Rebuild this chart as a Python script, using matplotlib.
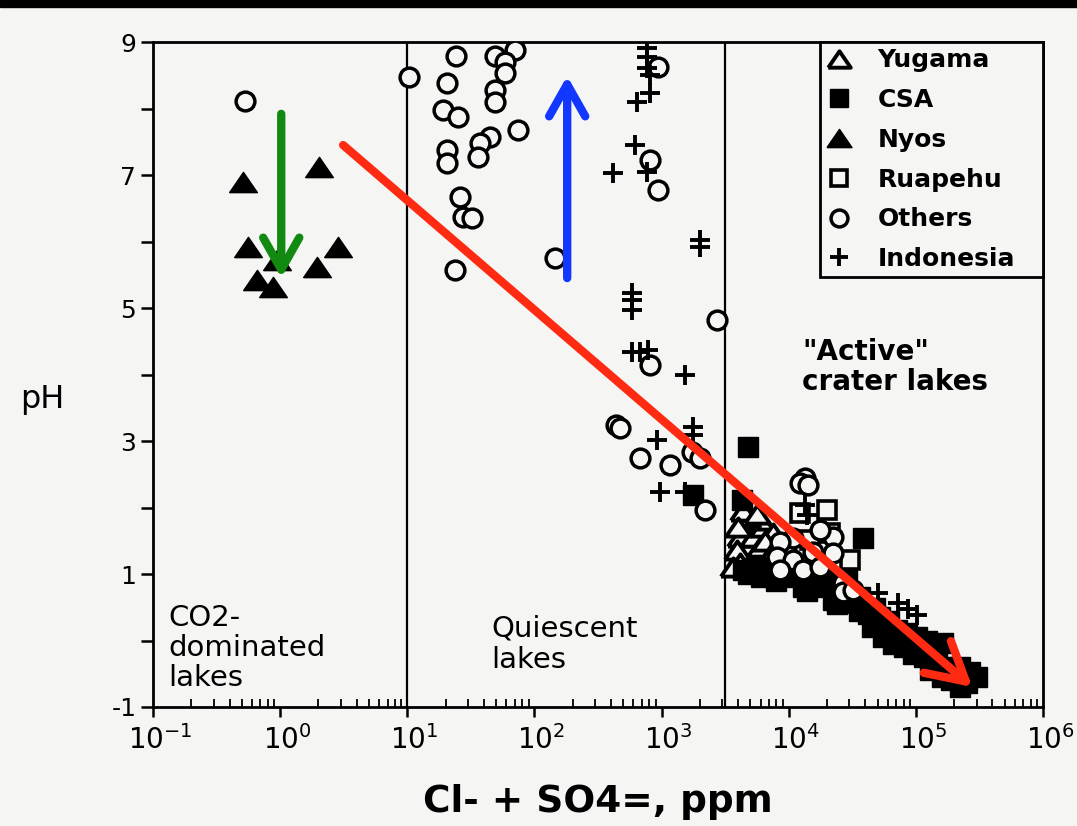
import matplotlib
matplotlib.use('Agg')
import numpy as np
import matplotlib.pyplot as plt
from matplotlib.ticker import LogLocator, FuncFormatter, NullFormatter
from matplotlib.patches import Rectangle
from matplotlib.transforms import ScaledTranslation

plt.rcParams['font.family'] = ['DejaVu Sans']
plt.rcParams['mathtext.default'] = 'regular'
plt.rcParams['axes.unicode_minus'] = False

# ---------------- data (Cl- + SO4=, ppm ; pH) ----------------
yugama_x = [4980, 4150, 3935, 4150, 5260, 5970, 6300, 6780, 5260, 9730, 5970, 7550, 3660, 9730, 4710,
            4400, 5600, 4000, 6500, 7200, 8000]
yugama_y = [1.77, 1.56, 1.36, 1.17, 1.56, 1.41, 1.71, 1.21, 1.11, 1.06, 1.81, 1.62, 1.11, 1.41, 1.86,
            1.95, 1.90, 1.70, 1.50, 1.30, 1.15]

csa_x = [4800, 1774, 4300, 38550, 4385, 7150, 11670, 13000, 18660, 25420, 36560, 28860, 20090,
         22390, 32150, 52500, 59600, 71450, 85500, 102600, 123000, 137100, 164400, 147300,
         176600, 223400, 267900, 304100, 253600, 223400, 5650, 9730, 15600, 48000,
         36000, 45000, 55000, 66000, 80000, 95000, 115000, 130000, 160000, 190000,
         6000, 8000, 14000, 24000, 4800, 42000, 62000]
csa_y = [2.91, 2.19, 2.11, 1.54, 1.06, 1.02, 0.95, 0.80, 0.80, 0.71, 0.65, 0.91, 0.91,
         0.61, 0.61, 0.35, 0.26, 0.16, 0.11, 0.05, 0.00, -0.10, -0.04, -0.34,
         -0.40, -0.40, -0.47, -0.55, -0.64, -0.70, 1.11, 1.02, 0.91, 0.49,
         0.45, 0.20, 0.05, -0.05, -0.10, -0.20, -0.25, -0.45, -0.55, -0.60,
         0.95, 0.90, 0.75, 0.55, 1.00, 0.40, 0.30]

nyos_x = [0.51, 2.02, 0.56, 2.86, 1.95, 0.95, 0.66, 0.88]
nyos_y = [6.89, 7.12, 5.92, 5.92, 5.62, 5.72, 5.42, 5.32]

ruapehu_x = [12300, 20090, 21180, 30500, 14750]
ruapehu_y = [1.92, 1.96, 1.62, 1.21, 1.51]

others_x = [0.53, 10.3, 24.2, 20.6, 49, 70.5, 58.8, 58.8, 49, 49, 19.1, 25.1, 74.5, 44.8, 37.4,
            36.1, 20.6, 20.6, 26.0, 27.5, 32.3, 23.8, 145.5, 940, 813, 940, 2735, 813, 440,
            472, 1740, 2013, 679, 1169, 2203,
            13490, 12300, 14220, 22390, 17700, 15600, 10840, 8570, 8110, 10840, 13000, 17700,
            8570, 22390, 26850, 26850, 32150]
others_y = [8.11, 8.47, 8.79, 8.38, 8.79, 8.88, 8.70, 8.53, 8.28, 8.10, 7.98, 7.87, 7.68, 7.57, 7.48,
            7.27, 7.38, 7.18, 6.67, 6.37, 6.35, 5.57, 5.75, 8.62, 7.23, 6.77, 4.82, 4.14, 3.24,
            3.20, 2.83, 2.74, 2.74, 2.64, 1.96,
            2.44, 2.37, 2.34, 1.56, 1.66, 1.33, 1.54, 1.48, 1.26, 1.21, 1.06, 1.11,
            1.06, 1.32, 0.86, 0.73, 0.76]

indonesia_x = [771, 771, 771, 813, 643, 813, 620, 771, 416, 2013, 2013, 587, 587, 587, 587, 679,
               785, 1535, 923, 1774, 1774, 975, 1535,
               13490, 14000, 33340, 50600, 72600, 102600, 87100]
indonesia_y = [8.91, 8.77, 8.61, 8.50, 8.10, 8.23, 7.45, 7.05, 7.03, 6.02, 5.92, 5.23, 5.12, 4.97, 4.34, 4.34,
               4.37, 3.99, 3.02, 3.21, 3.09, 2.23, 2.23,
               2.04, 1.89, 0.43, 0.71, 0.56, 0.38, 0.47]

legend_labels = ['Yugama', 'CSA', 'Nyos', 'Ruapehu', 'Others', 'Indonesia']
y_tick_values = [-1, 1, 3, 5, 7, 9]
y_tick_labels = ['-1', '1', '3', '5', '7', '9']
divider_x = [10, 3160]

# arrows: (x_tail, y_tail, x_head, y_head)
green_arrow = (1.02, 7.92, 1.02, 5.45)
blue_arrow = (181, 5.45, 181, 8.49)
red_arrow = (3.13, 7.45, 278000, -0.70)

# ---------------- figure ----------------
BG = '#f5f5f4'
W, H = 1077, 826
fig = plt.figure(figsize=(W / 100, H / 100), dpi=100, facecolor=BG)
ax = fig.add_axes([153 / W, 1 - 707 / H, (1043 - 153) / W, (707 - 42) / H], facecolor=BG)
fig.patches.append(Rectangle((0, 1 - 7 / H), 1, 7 / H, transform=fig.transFigure,
                             color='black', zorder=5))

tri = [(-1, -0.73), (1, -0.73), (0, 0.73), (-1, -0.73)]

common = dict(linestyle='none')
h_yug, = ax.plot(yugama_x, yugama_y, marker=tri, ms=18, mfc=BG, mec='black', mew=2.8,
                 zorder=3, **common)
h_csa, = ax.plot(csa_x, csa_y, marker='s', ms=14, mfc='black', mec='black', mew=1,
                 zorder=3, **common)
h_nyo, = ax.plot(nyos_x, nyos_y, marker=tri, ms=20, mfc='black', mec='black', mew=1,
                 zorder=3, **common)
h_rua, = ax.plot(ruapehu_x, ruapehu_y, marker='s', ms=13, mfc=BG, mec='black', mew=2.6,
                 zorder=3, **common)
h_oth, = ax.plot(others_x, others_y, marker='o', ms=13.5, mfc=BG, mec='black', mew=2.5,
                 zorder=3, **common)
h_ind, = ax.plot(indonesia_x, indonesia_y, marker='+', ms=15, mec='black', mew=2.8,
                 zorder=3, **common)

for dx in divider_x:
    ax.axvline(dx, color='black', lw=1.6, zorder=2)

ax.set_xscale('log')
ax.set_xlim(0.1, 1e6)
ax.set_ylim(-1, 9)

ax.xaxis.set_major_locator(LogLocator(base=10, numticks=12))
ax.xaxis.set_minor_locator(LogLocator(base=10, subs=range(2, 10), numticks=100))
ax.xaxis.set_major_formatter(FuncFormatter(lambda v, p: '$10^{%d}$' % int(round(np.log10(v)))))
ax.xaxis.set_minor_formatter(NullFormatter())
ax.tick_params(axis='x', which='major', direction='out', length=7, width=1.8,
               labelsize=20, pad=6, top=False)
ax.tick_params(axis='x', which='minor', direction='in', length=6, width=1.3, top=False)
shift = ScaledTranslation(5 / 72, 0, fig.dpi_scale_trans)
for lab in ax.get_xticklabels():
    lab.set_transform(lab.get_transform() + shift)

ax.set_yticks(y_tick_values)
ax.set_yticklabels(y_tick_labels)
ax.set_yticks([0, 2, 4, 6, 8], minor=True)
ax.tick_params(axis='y', which='both', direction='out', length=9, width=1.8,
               labelsize=18, pad=3, right=False)

for s in ax.spines.values():
    s.set_linewidth(2.0)
    s.set_color('black')

# region labels
ax.text((168 - 153) / 890, (707 - 692) / 665, 'CO2-\ndominated\nlakes', transform=ax.transAxes,
        ha='left', va='bottom', fontsize=21, linespacing=1.1, zorder=4)
ax.text((491 - 153) / 890, (707 - 674) / 665, 'Quiescent\nlakes', transform=ax.transAxes,
        ha='left', va='bottom', fontsize=21, linespacing=1.15, zorder=4)
ax.text((802 - 153) / 890, (707 - 396) / 665, '"Active"\ncrater lakes', transform=ax.transAxes,
        ha='left', va='bottom', fontsize=20, fontweight='bold', linespacing=1.1, zorder=4)

# axis labels
fig.text(42 / W, 1 - 400 / H, 'pH', ha='center', va='center', fontsize=23)
fig.text(598 / W, 1 - 812 / H, 'Cl- + SO4=, ppm', ha='center', va='baseline',
         fontsize=27, fontweight='bold')

# legend
leg = ax.legend([h_yug, h_csa, h_nyo, h_rua, h_oth, h_ind], legend_labels,
                loc='upper left',
                bbox_to_anchor=((820 - 153) / 890, 0, (1043 - 820) / 890, 1),
                mode='expand', borderaxespad=0,
                prop={'weight': 'bold', 'size': 18}, frameon=True, fancybox=False,
                edgecolor='black', facecolor=BG, framealpha=1, numpoints=1,
                handlelength=1.05, handletextpad=1.0, labelspacing=0.63,
                borderpad=0.25, markerscale=0.9)
leg.get_frame().set_linewidth(2.0)
leg.set_zorder(6)

# arrows
def arrow(a, color, hl, hw):
    ax.annotate('', xy=(a[2], a[3]), xytext=(a[0], a[1]), xycoords='data',
                arrowprops=dict(arrowstyle='->,head_length=%g,head_width=%g' % (hl, hw),
                                lw=6, color=color, mutation_scale=20, shrinkA=0, shrinkB=0,
                                capstyle='round', joinstyle='round'),
                zorder=10)

arrow(green_arrow, '#128a12', 1.15, 0.65)
arrow(blue_arrow, '#1238ff', 1.15, 0.65)
arrow(red_arrow, '#ff2a12', 1.35, 0.75)

fig.savefig('out.png', dpi=100, facecolor=BG)
